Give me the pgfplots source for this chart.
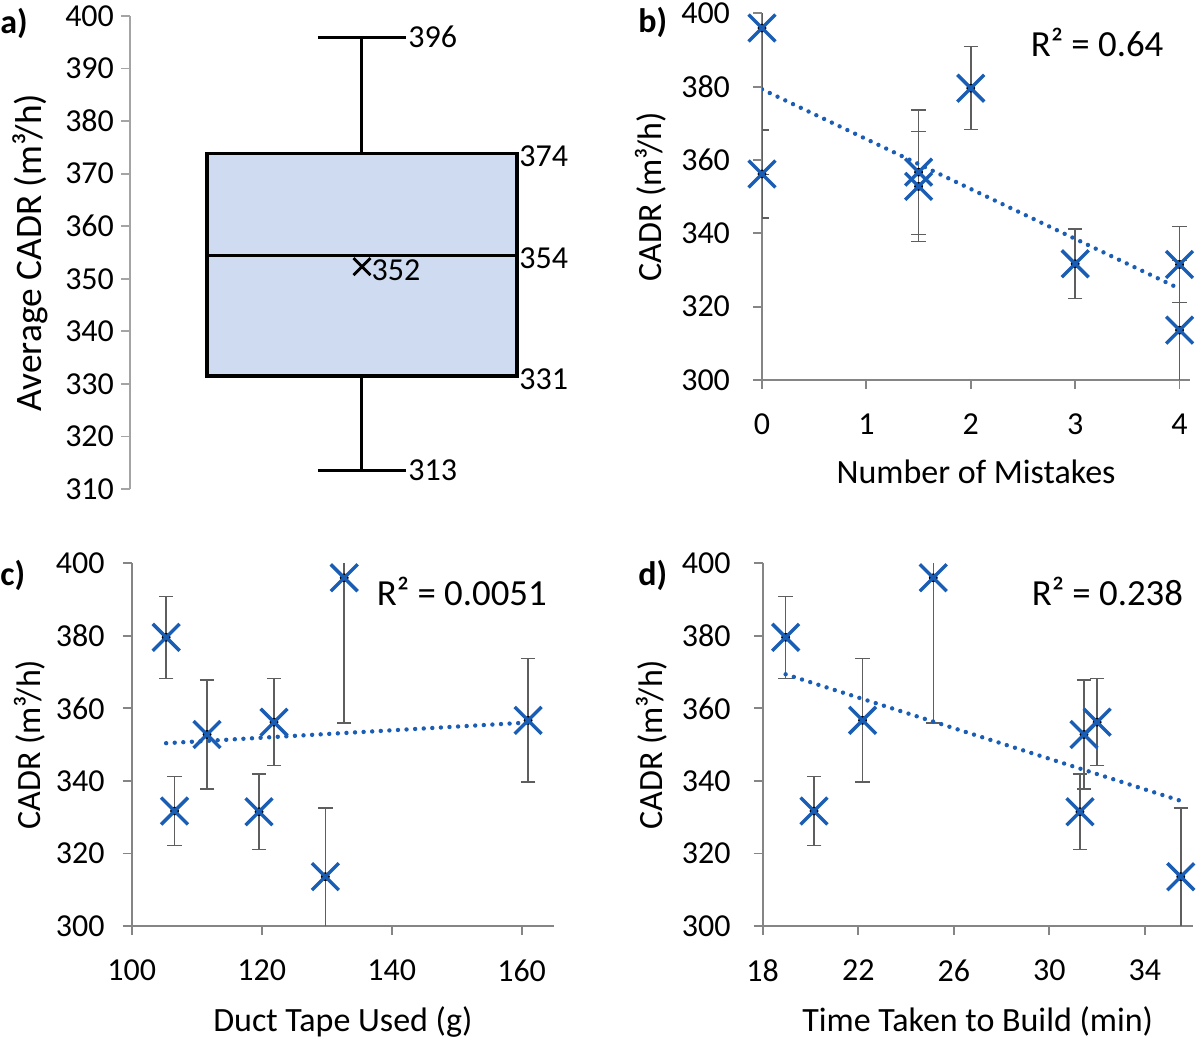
\documentclass[border=0pt]{standalone}
\usepackage{fontspec}
\setmainfont{Carlito}
\usepackage{pgfplots}
\pgfplotsset{compat=1.18}
\usepackage{pgfplotstable}

\definecolor{axgray}{HTML}{858585}
\definecolor{errgray}{HTML}{5E5E5E}
\definecolor{mblue}{HTML}{1A5DB4}
\definecolor{boxblue}{HTML}{CEDBF0}

\pgfplotstableread{
x y ep em
0 396 40 40
0 356.2 12 12
1.5 356.7 17 17
1.5 352.8 15 15
2 379.6 11.3 11.3
3 331.7 9.5 9.5
4 331.5 10.4 10.4
4 313.6 19 19
}\tabmistakes

\pgfplotstableread{
x y ep em
132.7 396 40 40
105.3 379.6 11.3 11.3
161.0 356.7 17 17
121.9 356.2 12 12
111.6 352.8 15 15
106.6 331.7 9.5 9.5
119.6 331.5 10.4 10.4
129.8 313.6 19 19
}\tabtape

\pgfplotstableread{
x y ep em
25.14 396 40 40
18.96 379.6 11.3 11.3
22.18 356.7 17 17
32.0 356.2 12 12
31.45 352.8 15 15
20.15 331.7 9.5 9.5
31.28 331.5 10.4 10.4
35.5 313.6 19 19
}\tabtime

\tikzset{rsq/.style={anchor=center, font=\fontsize{18.4}{21}\selectfont}}

\pgfplotsset{
  panel/.style={
    scale only axis,
    anchor=south west,
    axis lines*=left,
    axis line style={draw=axgray, line width=0.9pt},
    tick style={draw=axgray, line width=0.9pt},
    tick align=outside,
    major tick length=4.5pt,
    ticklabel style={font=\fontsize{16}{19}\selectfont, text=black},
    xticklabel style={yshift=-9pt},
    label style={font=\fontsize{17}{20}\selectfont, text=black},
    /pgf/number format/assume math mode=true,
    clip mode=individual,
    ymin=300, ymax=400,
    ytick={300,320,...,400},
    ylabel={CADR (m³/h)},
  },
  errplot/.style={
    only marks, mark=none,
    error bars/.cd, y dir=both, y explicit,
    error bar style={draw=errgray, line width=0.75pt},
    error mark options={rotate=90, mark size=3.6pt, draw=errgray, line width=0.75pt},
  },
  ptplot/.style={
    only marks, mark=x, mark size=9.5pt,
    mark options={draw=mblue, line width=1.7pt},
  },
  trendplot/.style={
    draw=mblue, line width=2.2pt, line cap=round,
    dash pattern=on 0pt off 4.3pt, mark=none,
  },
}

\begin{document}
\begin{tikzpicture}
\useasboundingbox (0pt,0pt) rectangle (600pt,519pt);

% panel letters
\node[font=\fontsize{17}{20}\selectfont\bfseries, anchor=west, inner sep=0pt] at (0pt,507.5pt) {a)};
\node[font=\fontsize{17}{20}\selectfont\bfseries, anchor=west, inner sep=0pt] at (319pt,508pt) {b)};
\node[font=\fontsize{17}{20}\selectfont\bfseries, anchor=west, inner sep=0pt] at (0pt,231.5pt) {c)};
\node[font=\fontsize{17}{20}\selectfont\bfseries, anchor=west, inner sep=0pt] at (319pt,231.5pt) {d)};

% ---- panel a: box plot
\begin{axis}[
  scale only axis, anchor=south west,
  at={(65pt,274.5pt)}, width=232pt, height=236.5pt,
  xmin=0, xmax=2, ymin=310, ymax=400,
  axis y line*=left, hide x axis,
  axis line style={draw=axgray!75, line width=0.9pt},
  tick style={draw=axgray!75, line width=0.9pt},
  tick align=outside, major tick length=4.5pt,
  ytick={310,320,...,400},
  ticklabel style={font=\fontsize{16}{19}\selectfont, text=black},
  label style={font=\fontsize{18.7}{22}\selectfont, text=black},
  ylabel shift=2pt,
  /pgf/number format/assume math mode=true,
  ylabel={Average CADR (m³/h)},
  clip=false,
]
\addplot[black, line width=1.5pt] coordinates {(1,373.9) (1,396)};
\addplot[black, line width=1.5pt] coordinates {(1,331.5) (1,313.6)};
\addplot[black, line width=1.5pt] coordinates {(0.81,396) (1.19,396)};
\addplot[black, line width=1.5pt] coordinates {(0.81,313.6) (1.19,313.6)};
\addplot[draw=black, line width=1.6pt, fill=boxblue, line join=miter]
  coordinates {(0.332,331.5) (1.668,331.5) (1.668,373.9) (0.332,373.9)} -- cycle;
\addplot[black, line width=1.4pt] coordinates {(0.332,354.5) (1.668,354.5)};
\addplot[only marks, mark=x, mark size=6pt, mark options={draw=black, line width=1.4pt}]
  coordinates {(1,352.3)};
\node[anchor=west, inner sep=1pt, font=\fontsize{16}{19}\selectfont] at (axis cs:1.19,396) {396};
\node[anchor=west, inner sep=1pt, font=\fontsize{16}{19}\selectfont] at (axis cs:1.19,313.6) {313};
\node[anchor=west, inner sep=1pt, font=\fontsize{16}{19}\selectfont] at (axis cs:1.668,373.4) {374};
\node[anchor=west, inner sep=1pt, font=\fontsize{16}{19}\selectfont] at (axis cs:1.668,353.9) {354};
\node[anchor=west, inner sep=1pt, font=\fontsize{16}{19}\selectfont] at (axis cs:1.668,330.9) {331};
\node[anchor=west, inner sep=0pt, font=\fontsize{16}{19}\selectfont] at (axis cs:1.04,351.6) {352};
\end{axis}

% ---- panel b
\begin{axis}[panel,
  at={(381pt,329pt)}, width=214pt, height=183.3pt,
  xmin=0, xmax=4.1, xtick={0,1,2,3,4},
  yticklabel style={xshift=-8pt},
  xlabel shift=5.5pt, ylabel shift=0.5pt,
  xlabel={Number of Mistakes},
]
\addplot[errplot] table[x=x, y=y, y error plus=ep, y error minus=em] {\tabmistakes};
\addplot[trendplot] coordinates {(0,379.3) (4,324.9)};
\addplot[ptplot] table[x=x, y=y] {\tabmistakes};
\node[rsq] at (axis cs:3.21,392.2) {R² = 0.64};
\end{axis}

% ---- panel c
\begin{axis}[panel,
  at={(65.85pt,56pt)}, width=211.2pt, height=181.35pt,
  xmin=100, xmax=165, xtick={100,120,140,160},
  yticklabel style={xshift=-5.5pt},
  xlabel style={inner sep=0pt},
  xlabel shift=8.6pt, ylabel shift=-1.5pt,
  xlabel={Duct Tape Used (g)},
]
\addplot[errplot] table[x=x, y=y, y error plus=ep, y error minus=em] {\tabtape};
\addplot[trendplot] coordinates {(105.3,350.4) (161,356.1)};
\addplot[ptplot] table[x=x, y=y] {\tabtape};
\node[rsq] at (axis cs:150.8,392.2) {R² = 0.0051};
\end{axis}

% ---- panel d
\begin{axis}[panel,
  at={(381.35pt,56pt)}, width=215pt, height=181.35pt,
  xmin=18, xmax=36, xtick={18,22,26,30,34},
  yticklabel style={xshift=-8pt},
  xlabel style={inner sep=0pt},
  xlabel shift=8.6pt, ylabel shift=0.5pt,
  xlabel={Time Taken to Build (min)},
]
\addplot[errplot] table[x=x, y=y, y error plus=ep, y error minus=em] {\tabtime};
\addplot[trendplot] coordinates {(18.96,369.4) (35.5,334.5)};
\addplot[ptplot] table[x=x, y=y] {\tabtime};
\node[rsq] at (axis cs:32.43,392.2) {R² = 0.238};
\end{axis}
\end{tikzpicture}
\end{document}
